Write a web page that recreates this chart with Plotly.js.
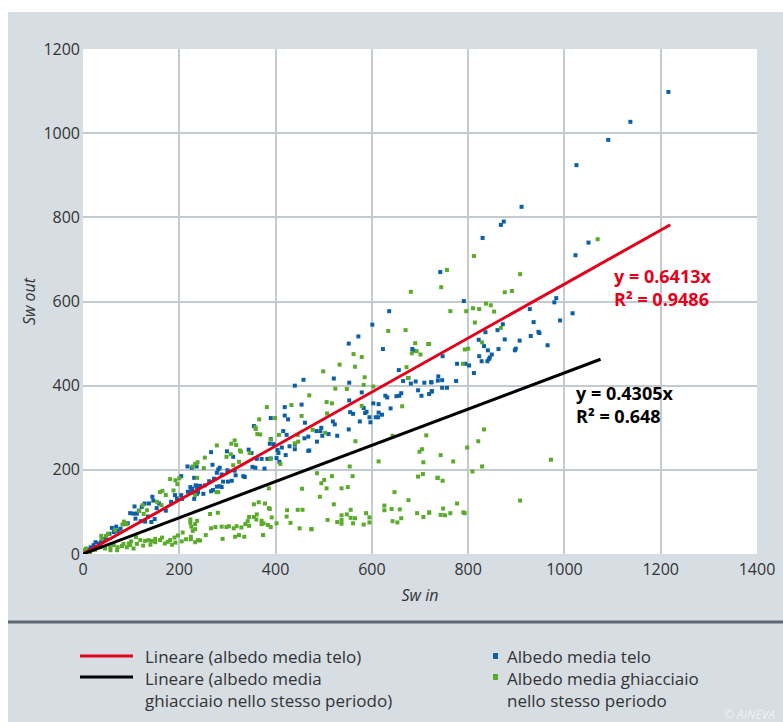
<!DOCTYPE html>
<html>
<head>
<meta charset="utf-8">
<script src="https://cdn.plot.ly/plotly-3.0.1.min.js"></script>
<style>html,body{margin:0;padding:0;background:#fff;}#chart{width:783px;height:722px;}</style>
</head>
<body>
<div id="chart"></div>
<script>
// ---- data ----
const teloPoints = [
[1216,1098],[1137,1027],[1091,984],[1025,924],[911,825],[874,790],[868,782],[830,751],[1050,740],[1023,710],
[742,670],[983,608],[979,598],[791,601],[928,582],[1017,572],[991,555],[936,551],[948,525],[965,496],
[872,546],[836,527],[861,532],[946,528],[876,510],[822,509],[907,507],[930,518],[833,494],[899,488],
[897,484],[863,487],[841,484],[849,474],[823,470],[845,467],[843,463],[828,458],[840,458],[747,470],
[777,452],[802,448],[794,452],[812,430],[738,422],[737,412],[746,413],[724,408],[775,411],[746,395],
[756,395],[725,387],[719,380],[636,577],[601,545],[572,517],[552,500],[623,487],[684,487],[688,483],
[656,437],[521,417],[553,407],[579,384],[665,411],[676,418],[681,405],[691,410],[709,407],[723,408],
[696,389],[703,376],[724,386],[628,376],[632,372],[651,375],[657,376],[661,382],[553,365],[603,358],
[614,356],[639,346],[583,347],[555,337],[561,333],[589,338],[586,335],[614,336],[621,331],[595,325],
[608,325],[613,325],[597,313],[575,315],[519,315],[523,308],[495,300],[552,296],[485,292],[493,292],
[497,281],[510,285],[528,281],[486,267],[470,246],[458,414],[440,400],[419,349],[454,355],[419,329],
[426,320],[390,323],[461,312],[355,304],[416,292],[423,283],[388,262],[396,261],[390,273],[460,275],
[468,279],[404,247],[413,253],[406,240],[429,256],[440,260],[468,245],[440,249],[421,235],[344,248],
[350,240],[383,226],[390,227],[402,228],[408,219],[361,226],[371,226],[312,231],[299,244],[266,242],
[352,207],[358,205],[377,203],[269,212],[281,201],[284,205],[315,198],[300,199],[278,193],[288,189],
[317,187],[309,174],[301,172],[291,172],[333,185],[336,183],[272,179],[262,173],[253,163],[278,160],
[284,161],[288,159],[270,152],[266,149],[243,162],[234,163],[237,159],[223,159],[227,155],[250,143],
[237,143],[231,131],[217,208],[226,205],[236,208],[204,185],[231,181],[236,162],[218,148],[225,152],
[229,146],[239,147],[204,140],[206,131],[191,140],[195,132],[183,124],[158,120],[153,109],[144,136],
[146,127],[137,120],[128,120],[122,112],[107,113],[98,97],[105,96],[116,103],[112,96],[109,84],
[120,78],[129,77],[142,76],[149,83],[135,89],[88,71],[93,73],[60,62],[69,65],[78,60],
[64,52],[55,48],[43,36],[38,30],[33,25],[26,28],[22,21],[16,16],[10,11],[172,103],[5,6],[48,40],[72,55]
];
const ghiacciaioPoints = [
[1069,748],[972,224],[812,708],[756,675],[908,665],[744,634],[876,622],[891,625],[837,595],[847,591],
[810,584],[823,582],[763,577],[796,577],[854,576],[814,550],[868,537],[829,503],[793,486],[800,488],
[789,452],[719,499],[833,296],[821,268],[798,253],[743,235],[769,220],[829,208],[809,196],[737,181],
[747,174],[908,127],[777,120],[748,108],[719,99],[743,93],[752,92],[763,97],[790,99],[793,97],
[681,623],[634,530],[670,532],[690,501],[717,499],[683,477],[693,482],[701,474],[562,475],[579,468],
[533,450],[565,445],[672,444],[499,434],[585,420],[675,418],[470,377],[524,393],[548,392],[583,402],
[603,398],[506,361],[517,358],[507,334],[579,352],[663,351],[477,295],[503,288],[566,268],[643,281],
[713,282],[699,243],[704,249],[707,218],[614,220],[554,208],[486,192],[517,185],[560,185],[501,176],
[696,184],[706,190],[736,181],[495,168],[506,156],[537,156],[550,159],[647,147],[492,136],[676,128],
[521,118],[626,115],[626,104],[641,107],[658,106],[556,105],[694,97],[719,98],[707,88],[588,97],
[537,92],[548,94],[595,87],[556,86],[565,85],[508,81],[528,76],[537,81],[537,72],[561,73],
[583,70],[595,75],[643,78],[653,75],[661,85],[474,59],[382,349],[433,354],[454,328],[399,323],
[366,320],[358,301],[359,297],[362,285],[368,284],[407,283],[446,283],[390,272],[315,270],[308,262],
[318,259],[278,258],[326,246],[328,243],[307,237],[346,240],[440,263],[447,267],[253,229],[298,231],
[389,226],[410,214],[238,218],[233,214],[228,208],[251,204],[312,211],[324,219],[237,181],[277,147],
[281,147],[233,140],[386,156],[455,155],[355,118],[365,123],[378,120],[386,109],[388,107],[424,104],
[446,105],[456,105],[280,98],[361,94],[345,88],[355,88],[264,95],[237,79],[223,82],[223,74],
[233,71],[225,65],[342,78],[337,71],[345,67],[360,82],[371,79],[375,73],[371,71],[384,69],
[390,64],[402,73],[392,87],[423,89],[431,74],[450,61],[475,59],[303,66],[319,66],[329,63],
[313,61],[266,61],[275,64],[288,65],[298,64],[255,45],[290,36],[316,41],[324,45],[335,41],
[374,45],[243,32],[233,28],[224,41],[200,180],[192,175],[196,166],[181,178],[188,151],[160,147],
[165,150],[172,140],[154,124],[163,116],[124,116],[117,102],[133,104],[126,95],[85,77],[82,70],
[90,71],[67,57],[52,48],[48,43],[38,43],[39,36],[6,13],[2,9],[1,5],[119,33],
[129,31],[136,33],[142,31],[150,36],[160,33],[164,39],[176,29],[181,33],[190,39],[192,27],
[197,44],[207,51],[214,35],[224,35],[228,55],[233,59],[239,33],[36,16],[46,13],[57,16],
[64,21],[72,16],[81,19],[91,16],[98,21],[105,13],[71,9],[84,24],[95,25],[57,9],
[15,5],[25,10],[112,24],[125,20],[140,22],[150,28],[170,25],[185,22],[205,30],[110,40],[100,30]
];
const teloX = teloPoints.map(p => p[0]);
const teloY = teloPoints.map(p => p[1]);
const ghiacciaioX = ghiacciaioPoints.map(p => p[0]);
const ghiacciaioY = ghiacciaioPoints.map(p => p[1]);

const teloSlope = 0.6413, teloR2 = 0.9486, teloFitXMax = 1220;
const ghiacSlope = 0.4305, ghiacR2 = 0.648, ghiacFitXMax = 1075;

const xTicks = [0,200,400,600,800,1000,1200,1400];
const yTicks = [0,200,400,600,800,1000,1200];

const seriesNames = ['Albedo media telo', 'Albedo media ghiacciaio<br>nello stesso periodo'];
const fitNames = ['Lineare (albedo media telo)', 'Lineare (albedo media<br>ghiacciaio nello stesso periodo)'];

// ---- drawing ----
const BLUE = '#0b5fa5', GREEN = '#5aab2a', RED = '#e3001b', BLACK = '#000000';
const BG = '#d6dde3', GRID = '#c3cbd1', TXT = '#333333';
const FONT = 'Open Sans, Noto Sans, sans-serif';

const traces = [
  {x: teloX, y: teloY, type: 'scatter', mode: 'markers', name: seriesNames[0],
   marker: {symbol: 'square', size: 4, color: BLUE, line: {width: 0}}},
  {x: ghiacciaioX, y: ghiacciaioY, type: 'scatter', mode: 'markers', name: seriesNames[1],
   marker: {symbol: 'square', size: 4, color: GREEN, line: {width: 0}}},
  {x: [0, teloFitXMax], y: [0, teloSlope * teloFitXMax], type: 'scatter', mode: 'lines', name: fitNames[0],
   line: {color: RED, width: 3}},
  {x: [0, ghiacFitXMax], y: [0, ghiacSlope * ghiacFitXMax], type: 'scatter', mode: 'lines', name: fitNames[1],
   line: {color: BLACK, width: 3}}
];

// pixel -> paper helpers (plot area 83..757 x 49..554)
const L = 83, R = 757, T = 49, B = 554;
const px = v => (v - L) / (R - L);
const py = v => (B - v) / (B - T);

const shapes = [
  {type: 'rect', xref: 'paper', yref: 'paper', x0: px(-10), x1: px(800), y0: py(12), y1: py(-10), fillcolor: '#ffffff', line: {width: 0}, layer: 'below'},
  {type: 'rect', xref: 'paper', yref: 'paper', x0: px(-10), x1: px(8), y0: py(740), y1: py(-10), fillcolor: '#ffffff', line: {width: 0}, layer: 'below'},
  {type: 'line', xref: 'paper', yref: 'paper', x0: px(8), x1: px(790), y0: py(622), y1: py(622), line: {color: '#5b6a72', width: 3}},
  {type: 'line', xref: 'paper', yref: 'paper', x0: px(80), x1: px(133), y0: py(656), y1: py(656), line: {color: RED, width: 3}},
  {type: 'line', xref: 'paper', yref: 'paper', x0: px(80), x1: px(133), y0: py(677), y1: py(677), line: {color: BLACK, width: 3}},
  {type: 'rect', xref: 'paper', yref: 'paper', x0: px(493), x1: px(498), y0: py(659), y1: py(653), fillcolor: BLUE, line: {width: 0}},
  {type: 'rect', xref: 'paper', yref: 'paper', x0: px(493), x1: px(498), y0: py(680), y1: py(674), fillcolor: GREEN, line: {width: 0}}
];

const annotations = [
  {xref: 'x', yref: 'y', x: 1099, y: 634, xanchor: 'left', yanchor: 'middle', align: 'left', showarrow: false,
   text: 'y = ' + teloSlope + 'x<br>R² = ' + teloR2, font: {family: FONT, size: 18, color: RED, weight: 'bold'}},
  {xref: 'x', yref: 'y', x: 1020, y: 356, xanchor: 'left', yanchor: 'middle', align: 'left', showarrow: false,
   text: 'y = ' + ghiacSlope + 'x<br>R² = ' + ghiacR2, font: {family: FONT, size: 18, color: BLACK, weight: 'bold'}},
  {xref: 'paper', yref: 'paper', x: px(143), y: py(656), xanchor: 'left', yanchor: 'middle', align: 'left', showarrow: false,
   text: fitNames[0], font: {family: FONT, size: 17, color: TXT}},
  {xref: 'paper', yref: 'paper', x: px(143), y: py(665), xanchor: 'left', yanchor: 'top', align: 'left', showarrow: false,
   text: fitNames[1], font: {family: FONT, size: 17, color: TXT}},
  {xref: 'paper', yref: 'paper', x: px(505), y: py(656), xanchor: 'left', yanchor: 'middle', align: 'left', showarrow: false,
   text: seriesNames[0], font: {family: FONT, size: 17, color: TXT}},
  {xref: 'paper', yref: 'paper', x: px(505), y: py(665), xanchor: 'left', yanchor: 'top', align: 'left', showarrow: false,
   text: seriesNames[1], font: {family: FONT, size: 17, color: TXT}},
  {xref: 'paper', yref: 'paper', x: px(722), y: py(704), xanchor: 'left', yanchor: 'top', showarrow: false,
   text: '© AINEVA', font: {family: FONT, size: 12, color: '#eef2f5', style: 'italic'}}
];

const layout = {
  width: 783, height: 722,
  margin: {l: L, r: 783 - R, t: T, b: 722 - B, pad: 0},
  paper_bgcolor: BG, plot_bgcolor: '#ffffff',
  showlegend: false,
  font: {family: FONT, color: TXT},
  xaxis: {range: [0, 1400], tickvals: xTicks, ticktext: xTicks.map(String), showgrid: true, gridcolor: GRID, gridwidth: 2,
          zeroline: false, showline: false, ticks: '', ticklabelstandoff: 4, tickfont: {family: FONT, size: 16, color: TXT}, automargin: false,
          title: {text: 'Sw in', font: {family: FONT, size: 16, color: TXT, style: 'italic'}, standoff: 10}},
  yaxis: {range: [0, 1200], tickvals: yTicks, ticktext: yTicks.map(String), showgrid: true, gridcolor: GRID, gridwidth: 2,
          zeroline: false, showline: false, ticks: '', ticklabelstandoff: 2, tickfont: {family: FONT, size: 16, color: TXT}, automargin: false,
          title: {text: 'Sw out', font: {family: FONT, size: 16, color: TXT, style: 'italic'}, standoff: 3}},
  shapes: shapes,
  annotations: annotations
};

Plotly.newPlot('chart', traces, layout, {displayModeBar: false, staticPlot: true});
</script>
</body>
</html>
